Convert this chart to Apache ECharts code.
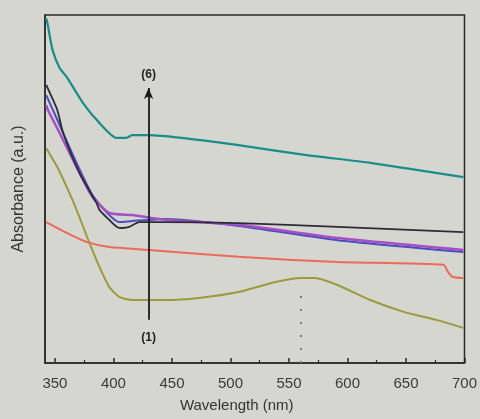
<!DOCTYPE html>
<html>
<head>
<meta charset="utf-8">
<script src="https://cdn.jsdelivr.net/npm/echarts@6/dist/echarts.min.js"></script>
<style>
  html, body { margin: 0; padding: 0; background: #d6d6d0; }
  #chart { width: 480px; height: 419px; }
</style>
</head>
<body>
<div id="chart"></div>
<script>
// wavelength (nm) / absorbance (a.u., 0-100 arbitrary scale)
const majorTicks = [350, 400, 450, 500, 550, 600, 650, 700]
const minorTicks = [375, 425, 475, 525, 575, 625, 675]

const curve1 = [ // olive
  [342.5, 61.8], [352, 56.3], [360, 50.6], [368.5, 44.0], [379.5, 34.5], [388, 27.6],
  [396.5, 21.8], [405, 19.0], [416, 18.1], [445, 18.1], [473, 18.7], [507, 20.4],
  [535, 23.0], [560, 24.4], [572, 24.4], [591.5, 22.4], [619.5, 18.1], [648, 14.7],
  [676, 12.4], [699, 10.1]
]
const curve2 = [ // red
  [342.5, 40.5], [360, 37.4], [377, 34.8], [396.5, 33.3], [430.5, 32.5], [507, 30.5],
  [591.5, 29.0], [682, 28.2], [686, 26.1], [690, 24.7], [699, 24.4]
]
const curve3 = [ // blue
  [342.5, 77.0], [354, 68.4], [368.5, 57.5], [382, 48.3], [396.5, 42.5], [405, 40.5],
  [416, 40.8], [445, 41.4], [507, 39.4], [591.5, 35.3], [699, 31.9]
]
const curve4 = [ // magenta / purple
  [342.5, 74.1], [344, 72.7], [354, 66.1], [368.5, 56.3], [382, 47.7], [396.5, 43.1],
  [416, 42.5], [445, 41.1], [507, 39.7], [591.5, 35.9], [699, 32.5]
]
const curve5 = [ // black
  [342.5, 79.9], [352, 72.7], [357, 66.1], [371, 54.6], [385.5, 46.0], [388, 44.0],
  [396.5, 41.1], [403, 39.1], [407.5, 38.8], [413.5, 39.1], [422, 40.5], [445, 40.5],
  [507, 40.2], [591.5, 39.1], [699, 37.6]
]
const curve6 = [ // teal
  [341.8, 99], [343, 98.6], [348, 89.9], [354, 84.8], [360, 82.2], [374, 74.7],
  [388, 69.0], [402.5, 64.7], [411, 64.7], [416, 65.5], [430.5, 65.5], [458.5, 64.7],
  [507, 62.6], [563.5, 59.8], [619.5, 57.5], [699, 53.4]
]

const arrowX = 430
const arrowFrom = 12.4
const arrowTo = 79
const peakX = 560
const peakY = 22

function line (data, color, width) {
  return {
    type: 'line',
    data: data,
    showSymbol: false,
    smooth: 0.2,
    lineStyle: { color: color, width: width },
    z: 3
  }
}

let option = {
  backgroundColor: '#d6d6d0',
  animation: false,
  grid: {
    left: 45, right: 13, top: 15, bottom: 56,
    show: true, borderColor: '#2a2a2a', borderWidth: 1.5
  },
  xAxis: [
    {
      type: 'value', min: 341.5, max: 700,
      name: 'Wavelength (nm)', nameLocation: 'middle', nameGap: 35,
      nameTextStyle: { fontFamily: 'Liberation Sans', fontSize: 15, color: '#333', padding: [0, 36, 0, 0] },
      axisLine: { show: true, lineStyle: { color: '#2a2a2a', width: 1.5 } },
      axisTick: { show: true, inside: true, length: 5, customValues: majorTicks, lineStyle: { color: '#2a2a2a', width: 1.5 } },
      axisLabel: { customValues: majorTicks, margin: 13, fontFamily: 'Liberation Sans', fontSize: 15, color: '#3a3a3a' },
      splitLine: { show: false }
    },
    {
      type: 'value', min: 341.5, max: 700, position: 'bottom',
      axisLine: { show: false },
      axisTick: { show: true, inside: true, length: 3, customValues: minorTicks, lineStyle: { color: '#2a2a2a', width: 1.2 } },
      axisLabel: { show: false },
      splitLine: { show: false }
    }
  ],
  yAxis: {
    type: 'value', min: 0, max: 100,
    name: 'Absorbance (a.u.)', nameLocation: 'middle', nameGap: 18,
    nameTextStyle: { fontFamily: 'Liberation Sans', fontSize: 16, color: '#333' },
    axisLine: { show: true, lineStyle: { color: '#2a2a2a', width: 1.5 } },
    axisTick: { show: false },
    axisLabel: { show: false },
    splitLine: { show: false }
  },
  series: [
    line(curve1, '#9c9a3e', 2),
    line(curve2, '#ec6b58', 2),
    line(curve3, '#4a4cc0', 2),
    line(curve4, '#a450c4', 2.5),
    line(curve5, '#2c2c38', 1.8),
    line(curve6, '#1a8c8a', 2.2),
    {
      type: 'line',
      data: [],
      markLine: {
        silent: true,
        animation: false,
        label: { show: false },
        data: [
          [
            { coord: [arrowX, arrowFrom], symbol: 'none', lineStyle: { color: '#1a1a1a', width: 1.8, type: 'solid' } },
            { coord: [arrowX, arrowTo], symbol: 'arrow', symbolSize: [7, 11] }
          ],
          [
            { coord: [peakX, 0], symbol: 'none', lineStyle: { color: '#7a7a7a', width: 2, type: [2, 11] } },
            { coord: [peakX, peakY], symbol: 'none' }
          ]
        ]
      },
      markPoint: {
        symbol: 'circle', symbolSize: 0,
        label: { show: true, fontFamily: 'Liberation Sans', fontWeight: 'bold', fontSize: 12, color: '#222' },
        data: [
          { coord: [arrowX, 7.2], value: '(1)', label: { formatter: '(1)' } },
          { coord: [arrowX, 82.8], value: '(6)', label: { formatter: '(6)' } }
        ]
      }
    }
  ]
}

let chart = echarts.init(document.getElementById('chart'))
chart.setOption(option)
</script>
</body>
</html>
